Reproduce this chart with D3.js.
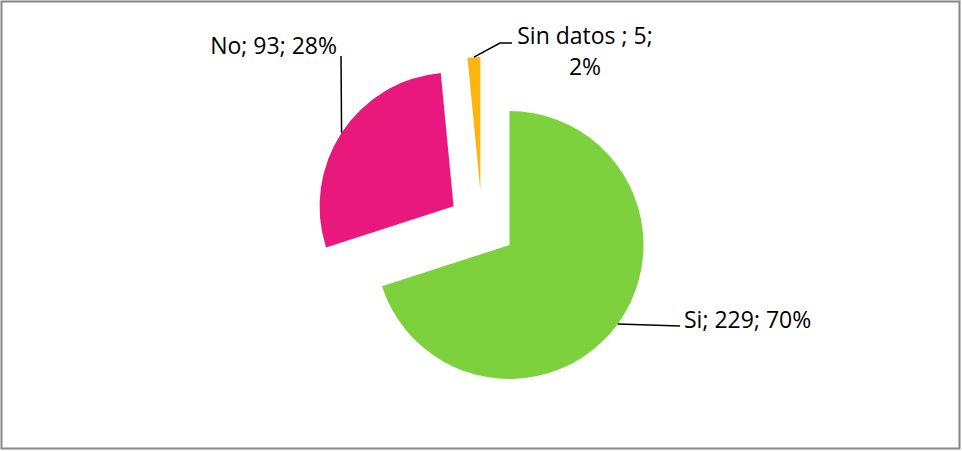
<!DOCTYPE html>
<html>
<head>
<meta charset="utf-8">
<script src="https://cdn.jsdelivr.net/npm/d3@7"></script>
<style>
    body { margin: 0; background: #fff; }
    svg text { font-family: "Open Sans", "Liberation Sans", sans-serif; fill: #000; }
</style>
</head>
<body>
<div id="chart"></div>
<script>
// data
const categories = ['Si', 'No', 'Sin datos '];
const counts = [229, 93, 5];
const percentLabels = ['70%', '28%', '2%'];
const colors = ['#7dd13c', '#e8187c', '#ffb510'];

const width = 962;
const height = 451;
const radius = 134;
const explode = 34;
const cx = 482;
const cy = 225;

// label layout: text anchor point and leader path elbows
const labelLayout = [
    { lines: [0], x: 684, y: 328, anchor: 'start', elbow: [[680, 326]] },
    { lines: [0], x: 337, y: 54, anchor: 'end', elbow: [[341, 56]] },
    { lines: [0, 1], x: 585, y: 44, anchor: 'middle', elbow: [[500, 43], [512, 43]] }
];

const svg = d3.select('#chart')
    .append('svg')
    .attr('width', width)
    .attr('height', height);

svg.append('rect')
    .attr('x', 1.5)
    .attr('y', 1.5)
    .attr('width', width - 4)
    .attr('height', height - 4)
    .style('fill', '#fff')
    .style('stroke', '#868686')
    .style('stroke-width', 2);

const pie = d3.pie().sort(null).value(d => d);
const arcs = pie(counts);

const arc = d3.arc()
    .innerRadius(0)
    .outerRadius(radius);

// offset of each slice along its middle angle
function sliceOffset(d)
{
    const mid = (d.startAngle + d.endAngle) / 2;
    return [explode * Math.sin(mid), -explode * Math.cos(mid)];
}

const g = svg.append('g')
    .attr('transform', `translate(${cx}, ${cy})`);

g.selectAll('.slice')
    .data(arcs)
    .join('path')
    .classed('slice', true)
    .attr('transform', d => `translate(${sliceOffset(d)})`)
    .attr('d', arc)
    .style('fill', (d, i) => colors[i]);

// leader lines
const line = d3.line();
g.selectAll('.leader')
    .data(arcs)
    .join('path')
    .classed('leader', true)
    .attr('d', (d, i) => {
        const mid = (d.startAngle + d.endAngle) / 2;
        const off = sliceOffset(d);
        const start = [off[0] + radius * Math.sin(mid), off[1] - radius * Math.cos(mid)];
        const pts = [start].concat(labelLayout[i].elbow.map(p => [p[0] - cx, p[1] - cy]));
        return line(pts);
    })
    .style('fill', 'none')
    .style('stroke', '#000')
    .style('stroke-width', 1.5);

// labels
const labelText = categories.map((c, i) => {
    const full = `${c}; ${counts[i]}; ${percentLabels[i]}`;
    return labelLayout[i].lines.length > 1
        ? [`${c}; ${counts[i]};`, percentLabels[i]]
        : [full];
});

svg.selectAll('.label')
    .data(labelText)
    .join('text')
    .classed('label', true)
    .attr('text-anchor', (d, i) => labelLayout[i].anchor)
    .style('font-size', '23px')
    .selectAll('tspan')
    .data((d, i) => d.map(t => ({ t: t, i: i })))
    .join('tspan')
    .attr('x', d => labelLayout[d.i].x)
    .attr('y', (d, j) => labelLayout[d.i].y + 31 * j)
    .text(d => d.t);
</script>
</body>
</html>
